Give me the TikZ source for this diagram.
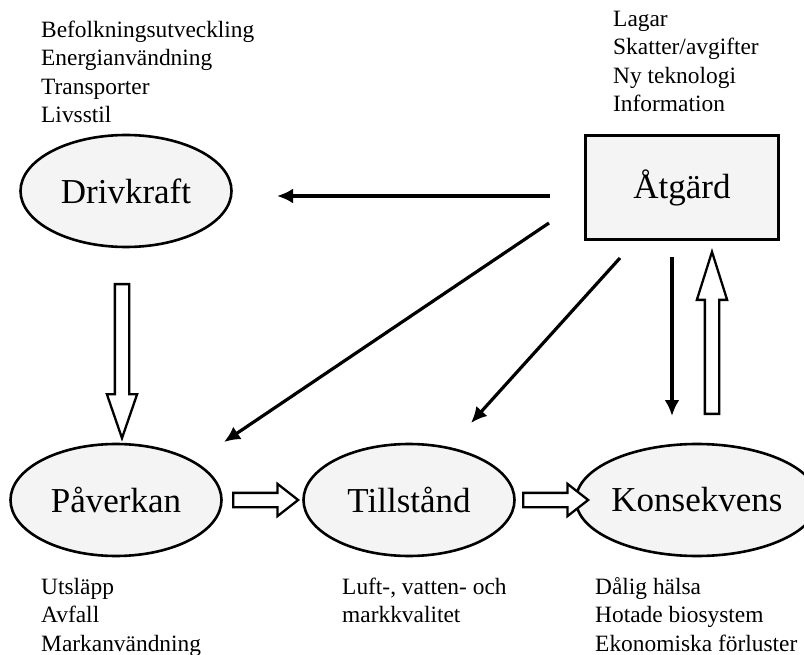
\documentclass[tikz,border=0pt]{standalone}
\usepackage{fontspec}
\setmainfont{Liberation Serif}
\usetikzlibrary{arrows.meta,shapes.geometric,shapes.arrows}
\definecolor{shapefill}{HTML}{F4F4F4}

\begin{document}
\begin{tikzpicture}[x=1pt, y=-1pt,
  stage/.style={ellipse, draw, line width=2.6pt, fill=shapefill, minimum width=211pt, minimum height=112pt, inner sep=0pt, font=\fontsize{35}{42}\selectfont},
  measure/.style={rectangle, draw, line width=2.6pt, fill=shapefill, minimum width=193pt, minimum height=104pt, font=\fontsize{35}{42}\selectfont},
  factors/.style={align=left, inner sep=0pt, anchor=base west, font=\fontsize{23.4}{28.5}\selectfont},
  hollow/.style={single arrow, draw, line width=2.3pt, fill=white, inner sep=6pt, single arrow head extend=8pt, anchor=tail},
  link/.style={line width=3.2pt, -{Latex[length=16pt,width=15pt]}}]

\useasboundingbox (0,0) rectangle (804,655);

% Draw the stages of the chain
\node[stage] (drv) at (126,191) {Drivkraft};
\node[measure] (atg) at (682,187.5) {Åtgärd};
\node[stage] (pav) at (116,500) {Påverkan};
\node[stage] (till) at (409,500) {Tillstånd};
\node[stage] (kons) at (697,500) {Konsekvens};

% Lists of factors (placed at the baseline of their last line)
\node[factors] (drvlist) at (41,123) {Befolkningsutveckling\\Energianvändning\\Transporter\\Livsstil};
\node[factors] (atglist) at (613,112) {Lagar\\Skatter/avgifter\\Ny teknologi\\Information};
\node[factors] (pavlist) at (41,651) {Utsläpp\\Avfall\\Markanvändning};
\node[factors] (tilllist) at (342,622.5) {Luft-, vatten- och\\markkvalitet};
\node[factors] (konslist) at (595,651) {Dålig hälsa\\Hotade biosystem\\Ekonomiska förluster};

% End points of the measure arrows
\coordinate (atgW) at (550,196);   \coordinate (drvE) at (277,196);
\coordinate (atgSW) at (549,223);  \coordinate (pavNE) at (224,442);
\coordinate (atgS) at (620,258);   \coordinate (tillNE) at (471,423);
\coordinate (atgSE) at (672,257);  \coordinate (konsN) at (672,416);

\draw[link] (atgW) -- (drvE);
\draw[link] (atgSW) -- (pavNE);
\draw[link] (atgS) -- (tillNE);
\draw[link] (atgSE) -- (konsN);

% Hollow arrows along the chain (placed at their tails)
\node[hollow, minimum height=154pt, rotate=-90, single arrow tip angle=38] (drv2pav) at (122,283) {};
\node[hollow, minimum height=65pt, single arrow head extend=9pt, single arrow tip angle=76] (pav2till) at (232,500) {};
\node[hollow, minimum height=65pt, single arrow head extend=9pt, single arrow tip angle=76] (till2kons) at (522,500) {};
\node[hollow, minimum height=162pt, rotate=90, single arrow tip angle=35] (kons2atg) at (712,415) {};

\end{tikzpicture}
\end{document}
